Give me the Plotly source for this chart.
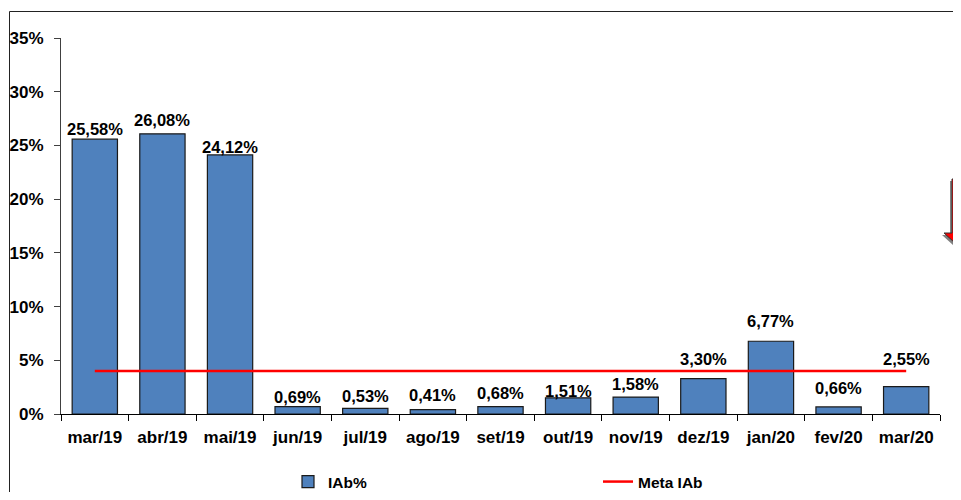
import plotly.graph_objects as go

months = ["mar/19", "abr/19", "mai/19", "jun/19", "jul/19", "ago/19", "set/19",
          "out/19", "nov/19", "dez/19", "jan/20", "fev/20", "mar/20"]
iab = [25.58, 26.08, 24.12, 0.69, 0.53, 0.41, 0.68, 1.51, 1.58, 3.30, 6.77, 0.66, 2.55]
meta = [4, 4, 4, 4, 4, 4, 4, 4, 4, 4, 4, 4, 4]
y_ticks = [0, 5, 10, 15, 20, 25, 30, 35]

# label lift above the bar top (pixels) - styling only
label_lift = [10, 14, 8, 10, 12, 15, 14, 7, 13, 20, 20, 19, 28]

# the page body has an 8px margin: work in screen pixels and convert
OFF = 8
W, H = 961 - 2 * OFF, 500 - 2 * OFF
SL, SR, ST, SB = 61, 940, 38, 414  # plot area in screen pixels
L, T = SL - OFF, ST - OFF
R, B = W - (SR - OFF), H - (SB - OFF)
PW, PH = W - L - R, H - T - B


def px(x):
    return (x - OFF - L) / PW


def py(y):
    return (H - B - (y - OFF)) / PH


FONT = "Arial, Liberation Sans, sans-serif"

fig = go.Figure()
fig.add_trace(go.Bar(
    x=months, y=iab, name="IAb%",
    marker=dict(color="#4F81BD", line=dict(color="#1a1a1a", width=1.2)),
    width=0.67,
))
fig.add_trace(go.Scatter(
    x=months, y=meta, name="Meta IAb", mode="lines",
    line=dict(color="#FF0000", width=2.5),
))

annotations = []
for m, v, lift in zip(months, iab, label_lift):
    annotations.append(dict(
        x=m, y=v, xref="x", yref="y", yanchor="middle", yshift=lift,
        text=f"{v:.2f}".replace(".", ",") + "%", showarrow=False,
        font=dict(family=FONT, size=16.5, color="black", weight="bold"),
    ))


def poly(pts):
    return "M " + " L ".join(f"{px(a)},{py(b)}" for a, b in pts) + " Z"


arrow = [(952, 179), (980, 179), (980, 233), (988, 233), (966, 253), (944, 233), (952, 233)]
shadow = [(a - 2, b + 2) for a, b in arrow]

shapes = [
    dict(type="rect", xref="paper", yref="paper", x0=px(9.5), y0=py(11.5), x1=px(990), y1=py(530),
         line=dict(color="#222222", width=1), fillcolor="rgba(0,0,0,0)", layer="below"),
    dict(type="path", xref="paper", yref="paper", path=poly(shadow),
         fillcolor="#808080", line=dict(color="#808080", width=0)),
    dict(type="path", xref="paper", yref="paper", path=poly(arrow),
         fillcolor="#FF0000", line=dict(color="#333333", width=1)),
]

fig.update_layout(
    width=W, height=H,
    margin=dict(l=L, r=R, t=T, b=B, autoexpand=False),
    paper_bgcolor="white", plot_bgcolor="white",
    bargap=0.33,
    showlegend=True,
    legend=dict(orientation="h", x=px(288), y=py(482), yanchor="middle", xanchor="left",
                entrywidth=265, entrywidthmode="pixels",
                font=dict(family=FONT, size=15.5, color="black", weight="bold"),
                bgcolor="rgba(0,0,0,0)"),
    shapes=shapes,
    annotations=annotations,
    xaxis=dict(
        type="category", showline=True, linecolor="black", linewidth=1,
        ticks="outside", ticklen=6, tickcolor="black", tickson="boundaries",
        tickangle=0, ticklabelstandoff=8,
        tickfont=dict(family=FONT, size=17, color="black", weight="bold"),
        showgrid=False, zeroline=False,
    ),
    yaxis=dict(
        range=[0, 35], tickvals=y_ticks, ticktext=[f"{v}%" for v in y_ticks],
        showline=True, linecolor="#404040", linewidth=1,
        ticks="outside", ticklen=6, tickcolor="#404040", ticklabelstandoff=7,
        tickfont=dict(family=FONT, size=17, color="black", weight="bold"),
        showgrid=False, zeroline=False,
    ),
)

fig.write_html("out.html")
